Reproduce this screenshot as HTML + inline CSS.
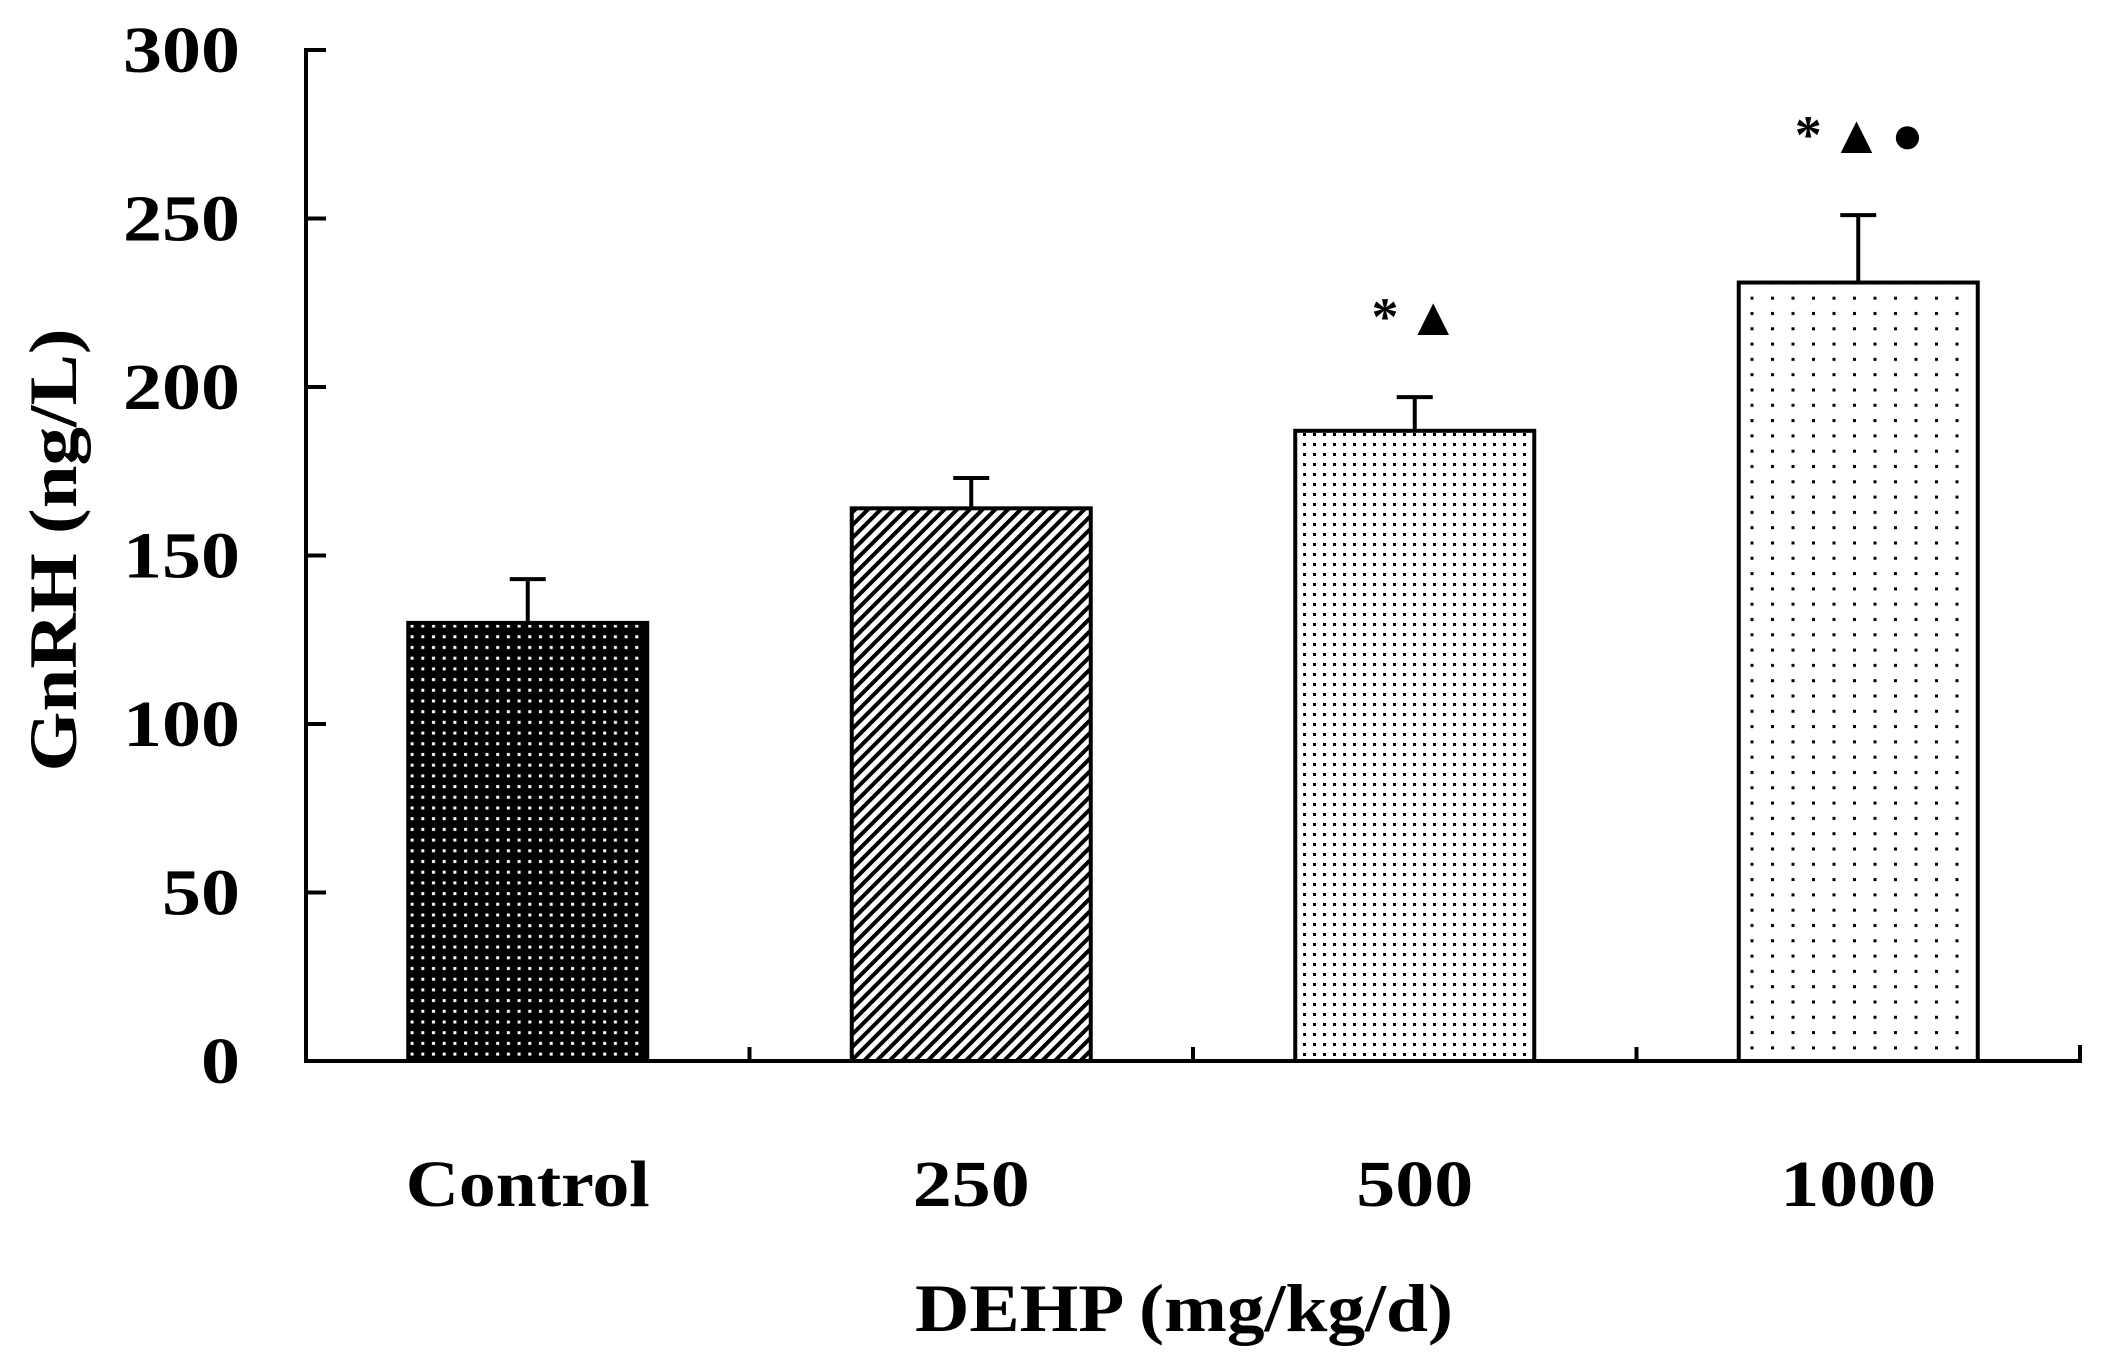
<!DOCTYPE html>
<html><head><meta charset="utf-8"><style>
html,body{margin:0;padding:0;background:#fff;}
svg{display:block;font-family:"Liberation Serif",serif;font-weight:bold;}
</style></head><body>
<svg id="chart" width="2104" height="1366" viewBox="0 0 2104 1366" xmlns="http://www.w3.org/2000/svg">
<defs>
<pattern id="p0" width="10.7" height="10.7" patternUnits="userSpaceOnUse"><rect width="10.7" height="10.7" fill="#000"/><rect x="4" y="4" width="3" height="3" fill="#fff"/></pattern>
<pattern id="p1" width="9" height="9" patternUnits="userSpaceOnUse" patternTransform="rotate(45)"><rect width="9" height="9" fill="#fff"/><rect width="4" height="9" fill="#000"/></pattern>
<pattern id="p2" width="10" height="10" patternUnits="userSpaceOnUse"><rect width="10" height="10" fill="#fff"/><rect x="3" y="3" width="3" height="3" fill="#000"/></pattern>
<pattern id="p3" width="20.5" height="15.3" patternUnits="userSpaceOnUse"><rect width="20.5" height="15.3" fill="#fff"/><rect x="8" y="6" width="3" height="3" fill="#000"/></pattern>
</defs>
<g id="bars"></g>
<g id="axes"></g>
<text transform="translate(76,550) rotate(-90)" text-anchor="middle" font-size="68" textLength="443" lengthAdjust="spacingAndGlyphs">GnRH (ng/L)</text>
<text x="1184" y="1331" text-anchor="middle" font-size="68" textLength="538" lengthAdjust="spacingAndGlyphs">DEHP (mg/kg/d)</text>
</svg>
<script>
const categories = ["Control","250","500","1000"];
const values = [130, 164, 187, 231];
const errors = [13, 9, 10, 20];
const yTicks = [0,50,100,150,200,250,300];
const marks = ["", "", "*▲", "*▲●"];
const fills = ["url(#p0)","url(#p1)","url(#p2)","url(#p3)"];

const NS="http://www.w3.org/2000/svg";
const X0=306, X1=2080, Y0=1061, Ytop=50, YMAX=300;
const y = v => Y0 - v/YMAX*(Y0-Ytop);
const cw = (X1-X0)/categories.length;
const xc = i => X0 + cw*(i+0.5);
const BW = 239;
function mk(tag, attrs, parent){const e=document.createElementNS(NS,tag);for(const k in attrs)e.setAttribute(k,attrs[k]);parent.appendChild(e);return e;}
const gb=document.getElementById('bars'), ga=document.getElementById('axes');
categories.forEach((c,i)=>{
  const top=y(values[i]), et=y(values[i]+errors[i]);
  const ln=mk('line',{x1:xc(i),x2:xc(i),y1:et,y2:top,stroke:'#000','stroke-width':4},gb);
  
  
  const cap=mk('line',{x1:xc(i)-18,x2:xc(i)+18,y1:et,y2:et,stroke:'#000','stroke-width':4},gb);
  
  
  const r=mk('rect',{x:xc(i)-BW/2,y:top,width:BW,height:Y0-top,fill:fills[i],stroke:'#000','stroke-width':4},gb);
  
  
  const len = c.length>4 ? 244 : 39*c.length;
  const t=mk('text',{x:xc(i),y:1206,'text-anchor':'middle','font-size':66,textLength:len,lengthAdjust:'spacingAndGlyphs'},ga);
  t.textContent=c;
  
  
  if(marks[i]){
    const m=mk('text',{x:xc(i)+5,y:et-62,'text-anchor':'middle','font-size':54,'letter-spacing':8},gb);
    m.textContent=marks[i];
    
    
  }
  if(i>0){
    const tk=mk('line',{x1:X0+cw*i,x2:X0+cw*i,y1:Y0,y2:Y0-14,stroke:'#000','stroke-width':4},ga);
    
    
  }
});
const endTk=mk('line',{x1:X1,x2:X1,y1:Y0,y2:Y0-16,stroke:'#000','stroke-width':4},ga);


const xa=mk('line',{x1:X0-2,x2:X1+2,y1:Y0,y2:Y0,stroke:'#000','stroke-width':4},ga);


const ya=mk('line',{x1:X0,x2:X0,y1:Ytop-2,y2:Y0+2,stroke:'#000','stroke-width':4},ga);


yTicks.forEach(v=>{
  const tk=mk('line',{x1:X0,x2:X0+20,y1:y(v),y2:y(v),stroke:'#000','stroke-width':4},ga);
  
  
  const s=String(v);
  const t=mk('text',{x:240,y:y(v)+22,'text-anchor':'end','font-size':66,textLength:39*s.length,lengthAdjust:'spacingAndGlyphs'},ga);
  t.textContent=s;
  
  
});
</script>
</body></html>
